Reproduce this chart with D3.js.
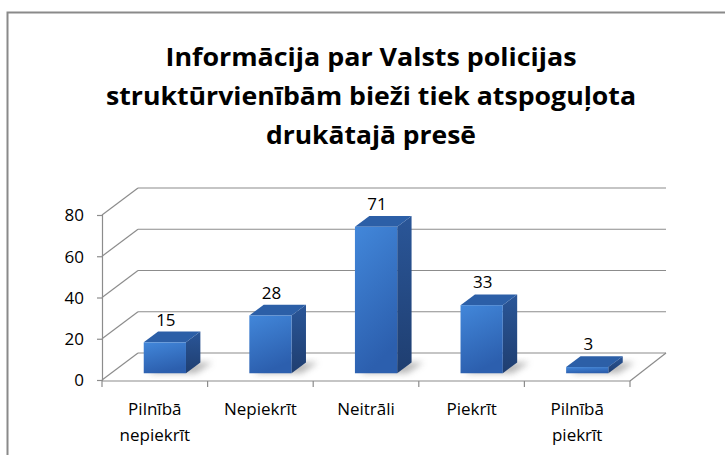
<!DOCTYPE html>
<html>
<head>
<meta charset="utf-8">
<script src="https://cdn.jsdelivr.net/npm/d3@7/dist/d3.min.js"></script>
<style>
  html, body { margin: 0; padding: 0; background: #fff; }
  svg { display: block; }
  text { font-family: "Open Sans", "Noto Sans", sans-serif; fill: #000; }
</style>
</head>
<body>
<svg id="chart" width="725" height="455"></svg>
<script>
const titleLines = ["Informācija par Valsts policijas", "struktūrvienībām bieži tiek atspoguļota", "drukātajā presē"];
const categories = ["Pilnībā nepiekrīt", "Nepiekrīt", "Neitrāli", "Piekrīt", "Pilnībā piekrīt"];
const categoryLines = [["Pilnībā", "nepiekrīt"], ["Nepiekrīt"], ["Neitrāli"], ["Piekrīt"], ["Pilnībā", "piekrīt"]];
const values = [15, 28, 71, 33, 3];
const yTicks = [0, 20, 40, 60, 80];

const svg = d3.select("#chart");

// frame
svg.append("rect").attr("x", 7.5).attr("y", 12.5).attr("width", 900).attr("height", 600)
  .attr("fill", "#fff").attr("stroke", "#8a8a8a").attr("stroke-width", 2);

// title
const titleWidths = [411, 530, 210];
svg.append("g").selectAll("text").data(titleLines).join("text")
  .attr("x", 371).attr("y", (d, i) => 66 + i * 39)
  .attr("text-anchor", "middle")
  .attr("font-size", 25).attr("font-weight", 700)
  .attr("textLength", (d, i) => titleWidths[i])
  .attr("lengthAdjust", "spacingAndGlyphs")
  .text(d => d);

// scales
const x = d3.scaleBand().domain(categories).range([102, 630]).padding(0);
const y = d3.scaleLinear().domain([0, 80]).range([380, 215]);
const DX = 36, DY = -27;           // full depth offset
const f0 = 0.25, f1 = 0.65;         // bar depth fractions
const xRight = x.range()[1];

// defs
const defs = svg.append("defs");
const gFront = defs.append("linearGradient").attr("id", "gFront")
  .attr("x1", 0).attr("y1", 0).attr("x2", 0.3).attr("y2", 1);
gFront.append("stop").attr("offset", "0%").attr("stop-color", "#4287da");
gFront.append("stop").attr("offset", "100%").attr("stop-color", "#2c5fae");
const gSide = defs.append("linearGradient").attr("id", "gSide")
  .attr("x1", 0).attr("y1", 0).attr("x2", 0).attr("y2", 1);
gSide.append("stop").attr("offset", "0%").attr("stop-color", "#2a5698");
gSide.append("stop").attr("offset", "100%").attr("stop-color", "#1f3e70");
const blur = defs.append("filter").attr("id", "blur").attr("x", "-50%").attr("y", "-50%").attr("width", "200%").attr("height", "200%");
blur.append("feGaussianBlur").attr("stdDeviation", 3);

// gridlines (side wall + back wall)
const grid = svg.append("g").attr("stroke", "#8c8c8c").attr("stroke-width", 1.2).attr("fill", "none");
yTicks.forEach(v => {
  const yy = y(v);
  grid.append("line").attr("x1", 102).attr("y1", yy).attr("x2", 102 + DX).attr("y2", yy + DY);
  grid.append("line").attr("x1", 102 + DX).attr("y1", yy + DY).attr("x2", xRight + DX).attr("y2", yy + DY);
});
// floor front & right edges
grid.append("line").attr("x1", 102).attr("y1", y(0) + 1).attr("x2", xRight).attr("y2", y(0) + 1);
grid.append("line").attr("x1", xRight).attr("y1", y(0) + 1).attr("x2", xRight + DX).attr("y2", y(0) + DY);

// y axis
const yAxis = d3.axisLeft(y).tickValues(yTicks).tickSize(5).tickPadding(13);
const ya = svg.append("g").attr("transform", "translate(102,0)").call(yAxis);
ya.select(".domain").attr("stroke", "#8c8c8c").attr("stroke-width", 1.2);
ya.selectAll(".tick line").attr("stroke", "#8c8c8c").attr("stroke-width", 1.2);
ya.selectAll(".tick text").attr("font-size", 17).attr("font-family", "Open Sans").attr("fill", "#000").attr("dy", "0.34em");

// x axis boundary ticks
const bounds = categories.map(c => x(c)).concat([xRight]);
svg.append("g").selectAll("line").data(bounds).join("line")
  .attr("x1", d => d).attr("x2", d => d).attr("y1", y(0) + 1).attr("y2", y(0) + 7)
  .attr("stroke", "#8c8c8c").attr("stroke-width", 1.2);

// category labels
const bw = x.bandwidth();
const catG = svg.append("g");
categories.forEach((c, i) => {
  const t = catG.append("text").attr("x", x(c) + bw / 2).attr("text-anchor", "middle").attr("font-size", 17);
  categoryLines[i].forEach((ln, j) => {
    t.append("tspan").attr("x", x(c) + bw / 2).attr("y", 415 + j * 26).text(ln);
  });
});

// bars
const barW = bw * 0.4;
const barG = svg.append("g");
categories.forEach((c, i) => {
  const v = values[i];
  const xl = x(c) + bw * 0.31 + DX * f0;
  const xr = xl + barW;
  const yb = y(0) + DY * f0;
  const yt = y(v) + DY * f0;
  const ddx = DX * (f1 - f0), ddy = DY * (f1 - f0);
  // shadow
  barG.append("polygon")
    .attr("points", [[xl + 4, yb], [xr + 10, yb], [xr + ddx + 12, yb + ddy], [xl + ddx + 6, yb + ddy]].map(p => p.join(",")).join(" "))
    .attr("fill", "#9a9a9a").attr("opacity", 0.7).attr("filter", "url(#blur)");
  // side
  barG.append("polygon")
    .attr("points", [[xr, yt], [xr + ddx, yt + ddy], [xr + ddx, yb + ddy], [xr, yb]].map(p => p.join(",")).join(" "))
    .attr("fill", "url(#gSide)");
  // top
  barG.append("polygon")
    .attr("points", [[xl, yt], [xr, yt], [xr + ddx, yt + ddy], [xl + ddx, yt + ddy]].map(p => p.join(",")).join(" "))
    .attr("fill", "#2c5fa7");
  // front
  barG.append("rect").attr("x", xl).attr("y", yt).attr("width", barW).attr("height", yb - yt)
    .attr("fill", "url(#gFront)");
  // value label
  svg.append("text").attr("x", xl + barW / 2 + 1).attr("y", yt + ddy - 6)
    .attr("text-anchor", "middle").attr("font-size", 17).text(v);
});
</script>
</body>
</html>
